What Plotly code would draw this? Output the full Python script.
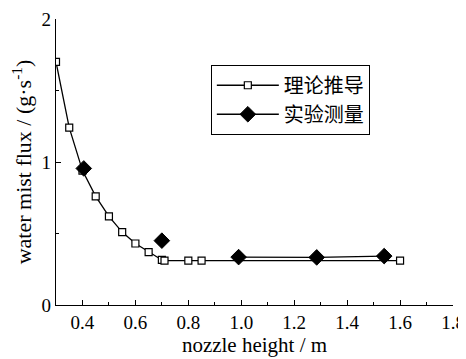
import plotly.graph_objects as go

# Theoretical derivation (理论推导)
theory_x = [0.30, 0.35, 0.40, 0.45, 0.50, 0.55, 0.60, 0.65, 0.70, 0.71, 0.80, 0.85, 1.60]
theory_y = [1.70, 1.24, 0.94, 0.76, 0.62, 0.51, 0.43, 0.37, 0.315, 0.31, 0.31, 0.31, 0.31]

# Experimental measurement (实验测量); None breaks the connecting line
exp_x = [0.405, None, 0.70, None, 0.99, 1.285, 1.54]
exp_y = [0.955, None, 0.45, None, 0.335, 0.333, 0.342]

x_ticks = [0.4, 0.6, 0.8, 1.0, 1.2, 1.4, 1.6, 1.8]
y_ticks = [0, 1, 2]

serif = "Liberation Serif, Times New Roman, serif"
cjk = "Noto Sans CJK SC, sans-serif"
fs = 19

fig = go.Figure()
fig.add_trace(go.Scatter(
    x=theory_x, y=theory_y, mode="lines+markers", name="理论推导",
    line=dict(color="black", width=1.3),
    marker=dict(symbol="square", size=7, color="white",
                line=dict(color="black", width=1.2)),
))
fig.add_trace(go.Scatter(
    x=exp_x, y=exp_y, mode="lines+markers", name="实验测量",
    connectgaps=False,
    line=dict(color="black", width=1.3),
    marker=dict(symbol="diamond", size=12, color="black",
                line=dict(color="black", width=1)),
))

# the page body has an 8px margin, so the figure is drawn 8px smaller
fig.update_layout(
    width=458, height=351,
    margin=dict(l=48, r=13, t=11, b=54, autoexpand=False),
    paper_bgcolor="white", plot_bgcolor="white",
    font=dict(family=serif, size=fs, color="black"),
    showlegend=True,
    legend=dict(
        x=0.39, y=0.84, xanchor="left", yanchor="top",
        bgcolor="white", bordercolor="black", borderwidth=1,
        font=dict(family=cjk, size=20, color="black"),
        tracegroupgap=0, itemwidth=62,
    ),
)
fig.update_xaxes(
    range=[0.3, 1.8], tickvals=x_ticks, ticktext=[f"{v:.1f}" for v in x_ticks],
    automargin=False, ticklabeloverflow="allow",
    showline=True, linecolor="black", linewidth=1.3, mirror=False,
    ticks="inside", ticklen=5, tickwidth=1.2, tickcolor="black",
    minor=dict(dtick=0.1, tick0=0.3, ticks="inside", ticklen=3, tickwidth=1.2, tickcolor="black"),
    showgrid=False, zeroline=False,
    title=dict(text="nozzle height / m", font=dict(family=serif, size=21), standoff=0),
    tickfont=dict(family=serif, size=fs),
)
fig.update_yaxes(
    range=[0, 2], tickvals=y_ticks, ticktext=[str(v) for v in y_ticks],
    automargin=False,
    showline=True, linecolor="black", linewidth=1.3, mirror=False,
    ticks="inside", ticklen=5, tickwidth=1.2, tickcolor="black",
    minor=dict(dtick=0.5, tick0=0, ticks="inside", ticklen=3, tickwidth=1.2, tickcolor="black"),
    showgrid=False, zeroline=False,
    title=dict(text="water mist flux / (g·s<sup>-1</sup>)", font=dict(family=serif, size=22), standoff=6),
    tickfont=dict(family=serif, size=fs),
)

fig.write_html("out.html")
